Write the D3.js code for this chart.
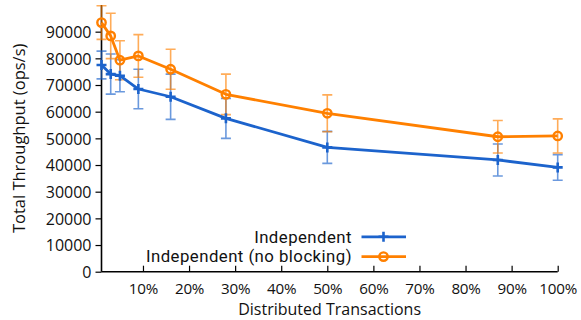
<!DOCTYPE html>
<html>
<head>
<meta charset="utf-8">
<script src="https://cdn.jsdelivr.net/npm/d3@7"></script>
<style>
  html, body { margin: 0; padding: 0; background: #fff; }
  svg { display: block; font-family: "Open Sans", sans-serif; }
</style>
</head>
<body>
<svg id="chart" width="581" height="320"></svg>
<script>
// ---- data ----
const xValues = [1, 3, 5, 9, 16, 28, 50, 87, 100];
const independentMean = [77500, 74100, 73500, 68500, 65600, 57500, 46600, 41900, 39100];
const independentErr  = [5200, 7500, 6000, 7400, 8500, 7500, 6000, 6000, 4800];
const noBlockingMean  = [93400, 88400, 79300, 80900, 75900, 66500, 59400, 50600, 50900];
const noBlockingErr   = [6300, 8500, 7300, 8000, 7500, 7600, 6900, 6100, 6400];
const xTicks = [10, 20, 30, 40, 50, 60, 70, 80, 90, 100];
const yTicks = [0, 10000, 20000, 30000, 40000, 50000, 60000, 70000, 80000, 90000];
const seriesNames = ["Independent", "Independent (no blocking)"];

const BLUE = "#1c63cc";
const ORANGE = "#ff8000";

const svg = d3.select("#chart");
const x = d3.scaleLinear().domain([1, 100]).range([101.5, 557.7]);
const y = d3.scaleLinear().domain([0, 100000]).range([271.7, 5]);

const series = [
  { name: seriesNames[0], mean: independentMean, err: independentErr, color: BLUE, marker: "plus" },
  { name: seriesNames[1], mean: noBlockingMean, err: noBlockingErr, color: ORANGE, marker: "circle" }
];

// ---- axes ----
const yAxis = d3.axisLeft(y).tickValues(yTicks).tickSize(6).tickPadding(4).tickFormat(d3.format("d"));
const gy = svg.append("g").attr("transform", `translate(${x(1)},0)`).call(yAxis);
gy.select(".domain").attr("d", `M0,${y(100000)}V${y(0)}`).attr("stroke", "#000").attr("stroke-width", 1.6);
gy.selectAll(".tick line").attr("stroke", "#000").attr("stroke-width", 1.2);
gy.selectAll(".tick text").attr("font-size", 16).attr("fill", "#111").attr("font-family", "Open Sans, sans-serif").attr("dy", "0.36em");

const xAxis = d3.axisBottom(x).tickValues(xTicks).tickSize(-6).tickPadding(11.5).tickFormat(d => d + "%");
const gx = svg.append("g").attr("transform", `translate(0,${y(0)})`).call(xAxis);
gx.select(".domain").attr("d", `M${x(1)},0H${x(100)}`).attr("stroke", "#000").attr("stroke-width", 1.6);
gx.selectAll(".tick line").attr("stroke", "#000").attr("stroke-width", 1.2);
gx.selectAll(".tick text").attr("font-size", 15.2).attr("letter-spacing", "-0.2px").attr("fill", "#111").attr("font-family", "Open Sans, sans-serif");

// axis titles
svg.append("text")
  .attr("transform", `translate(25,${(y(0) + y(100000)) / 2}) rotate(-90)`)
  .attr("text-anchor", "middle")
  .attr("font-size", 16.5).attr("fill", "#111")
  .text("Total Throughput (ops/s)");
svg.append("text")
  .attr("x", (x(1) + x(100)) / 2).attr("y", 315)
  .attr("text-anchor", "middle")
  .attr("font-size", 16).attr("fill", "#111")
  .text("Distributed Transactions");

// ---- error bars ----
const capW = 5;
series.forEach(s => {
  const g = svg.append("g").attr("stroke", s.color).attr("stroke-width", 1.6).attr("opacity", 0.65).attr("fill", "none");
  xValues.forEach((xv, i) => {
    const cx = x(xv), top = y(s.mean[i] + s.err[i]), bot = y(s.mean[i] - s.err[i]);
    g.append("path").attr("d", `M${cx},${top}V${bot}M${cx - capW},${top}H${cx + capW}M${cx - capW},${bot}H${cx + capW}`);
  });
});

// ---- lines and markers ----
const line = d3.line().x((d, i) => x(xValues[i])).y(d => y(d));
function drawMarker(g, type, cx, cy, color) {
  if (type === "plus") {
    g.append("path").attr("d", `M${cx - 5},${cy}H${cx + 5}M${cx},${cy - 5}V${cy + 5}`)
      .attr("stroke", color).attr("stroke-width", 2.6).attr("fill", "none");
  } else {
    g.append("circle").attr("cx", cx).attr("cy", cy).attr("r", 4.2)
      .attr("stroke", color).attr("stroke-width", 2.4).attr("fill", "none");
  }
}
[series[1], series[0]].forEach(s => {
  const g = svg.append("g");
  g.append("path").datum(s.mean).attr("d", line)
    .attr("fill", "none").attr("stroke", s.color).attr("stroke-width", 2.8).attr("stroke-linejoin", "round");
  s.mean.forEach((v, i) => drawMarker(g, s.marker, x(xValues[i]), y(v), s.color));
});

// ---- legend ----
const legendY = [236.8, 256.6];
series.forEach((s, i) => {
  const g = svg.append("g");
  g.append("text").attr("x", 352).attr("y", legendY[i] + 5.8)
    .attr("text-anchor", "end").attr("font-size", 16.8).attr("font-family", "Roboto, sans-serif")
    .attr("letter-spacing", "0.45px")
    .attr("fill", "#111").text(s.name);
  g.append("path").attr("d", `M361.5,${legendY[i]}H406`).attr("stroke", s.color).attr("stroke-width", 2.8);
  drawMarker(g, s.marker, 383.5, legendY[i], s.color);
});
</script>
</body>
</html>
